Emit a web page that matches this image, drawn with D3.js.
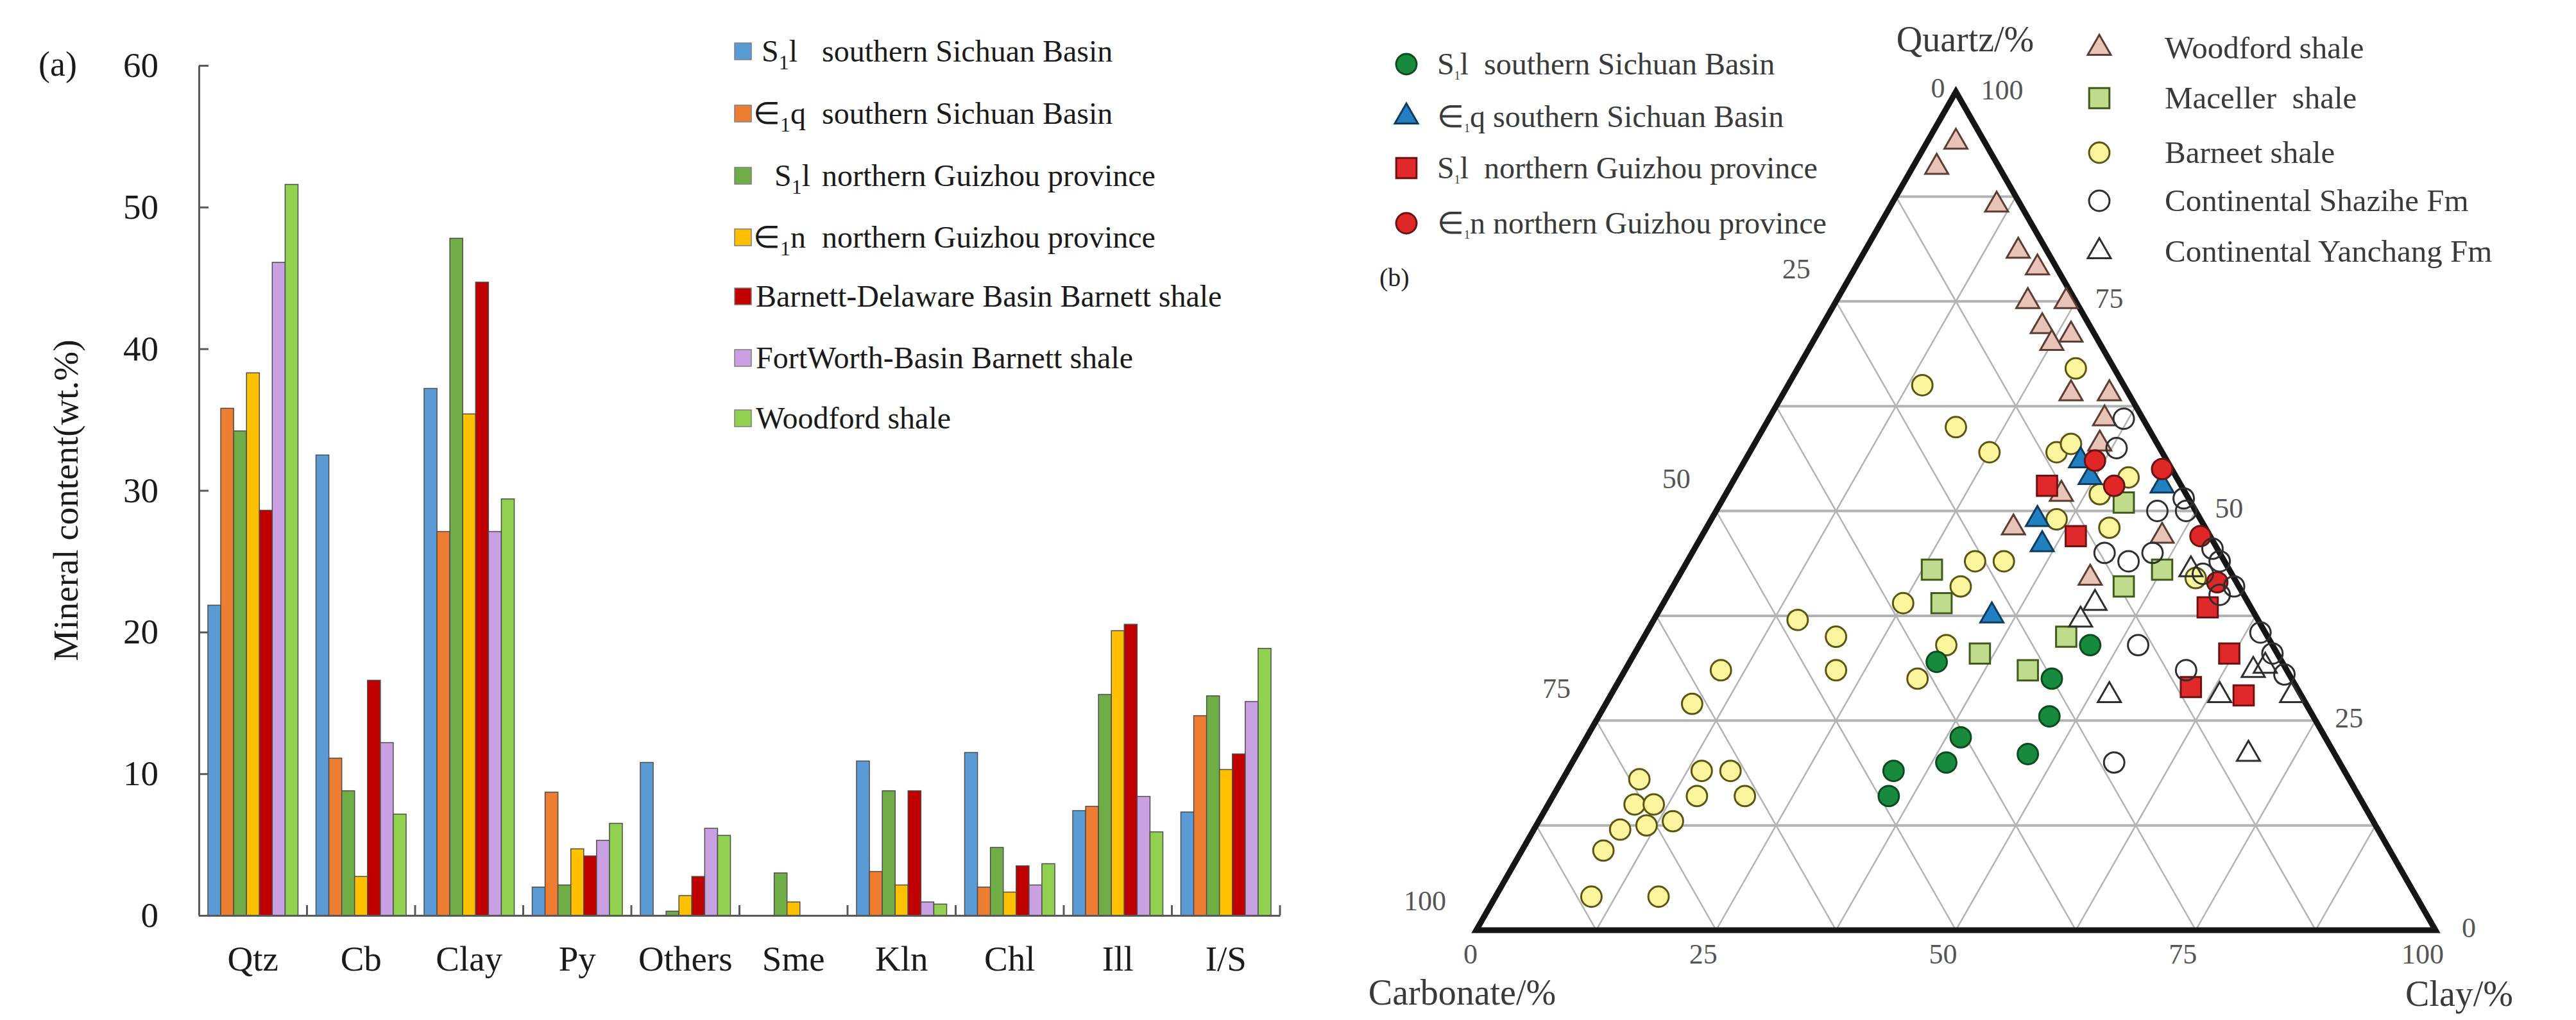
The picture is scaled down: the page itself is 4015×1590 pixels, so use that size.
<!DOCTYPE html>
<html>
<head>
<meta charset="utf-8">
<script src="https://d3js.org/d3.v7.min.js"></script>
<style>
  body { margin: 0; background: #fff; }
  text { font-family: 'Liberation Serif', 'Times New Roman', serif; white-space: pre; }
</style>
</head>
<body>
<div class="canvas"></div>
<script>
// ---------- (a) bar chart data ----------
const minerals = ['Qtz', 'Cb', 'Clay', 'Py', 'Others', 'Sme', 'Kln', 'Chl', 'Ill', 'I/S'];
const s1lSouth  = [21.9, 32.5, 37.2, 2.0, 10.8, 0, 10.9, 11.5, 7.4, 7.3];
const e1qSouth  = [35.8, 11.1, 27.1, 8.7, 0, 0, 3.1, 2.0, 7.7, 14.1];
const s1lNorth  = [34.2, 8.8, 47.8, 2.15, 0.3, 3.0, 8.8, 4.8, 15.6, 15.5];
const e1nNorth  = [38.3, 2.75, 35.4, 4.7, 1.4, 0.95, 2.15, 1.65, 20.1, 10.3];
const delaware  = [28.6, 16.6, 44.7, 4.2, 2.75, 0, 8.8, 3.5, 20.55, 11.4];
const fortWorth = [46.1, 12.2, 27.1, 5.3, 6.15, 0, 0.95, 2.15, 8.4, 15.1];
const woodford  = [51.6, 7.15, 29.4, 6.5, 5.65, 0, 0.8, 3.65, 5.9, 18.85];
const yTicks = [0, 10, 20, 30, 40, 50, 60];
const legendPrefix = ['S_1l', '∈_1q', 'S_1l', '∈_1n', '', '', ''];
const legendName = ['southern Sichuan Basin', 'southern Sichuan Basin', 'northern Guizhou province',
  'northern Guizhou province', 'Barnett-Delaware Basin Barnett shale', 'FortWorth-Basin Barnett shale', 'Woodford shale'];

// ---------- (b) ternary data: [quartz, carbonate, clay] ----------
const sichuanS1l = [[34,19,47],[32,36,32],[30,25,45],[25.5,27.5,47],[23,38,39],[20,41,39],[21,32,47],[19,47,34],[16,49,35]];
const sichuanE1q = [[56,9,35],[54,9,37],[53,2,45],[49,17,34],[46,18,36],[37.5,27.5,35]];
const guizhouS1l = [[53,14,33],[47,14,39],[38.5,4.5,57],[33,5,62],[29,11,60],[28,6,66]];
const guizhouE1n = [[56,7.5,36.5],[53,7,40],[55,1,44],[47,1,52],[41.5,2,56.5]];
const woodfordT = [[94,3,3],[91,6.5,2.5],[86.5,2.5,11],[81,3,16],[79,2,19],[75,5,20],[75,1,24],[72,5,23],
  [71,2.5,26.5],[70,5,25],[64,6,30],[64,2,34],[61,4,35],[58,6,36],[52,13,35],[48,20,32],[47,5,48],[42,15,43]];
const macellerT = [[51,7,42],[43,7,50],[41,12,47],[43,31,26],[39,32,29],[35,21,44],[33,31,36],[31,27,42]];
const barneetT = [[67,4,29],[65,21,14],[60,20,20],[57,18,25],[57,11,32],[58,9,33],[54,5,41],[52,9,39],
  [49,15,36],[48,10,42],[44,26,30],[44,23,33],[41,29,30],[39,36,25],[42,4,54],[37,48,15],[35,45,20],
  [34,34,32],[31,47,22],[30,39,31],[31,59,10],[27,64,9],[18,74,8],[19,67,14],[19,64,17],[16,69,15],
  [16,64,20],[15,76,9],[15,74,11],[12.5,76,11.5],[13,73,14],[12,79,9],[9.5,82,8.5],[4,86,10],[4,79,17]];
const shaziheT = [[61,2,37],[57.5,4.5,38],[51.5,0.5,48],[50,4,46],[50,1,49],[45,12,43],[44,10,46],[45,7,48],
  [45.5,0.5,54],[44,0.5,55.5],[40,2.5,57.5],[41,0.5,58.5],[35.5,0.5,64],[33,0.5,66.5],[34,14,52],
  [31,10.5,58.5],[30.5,0.5,69],[20,23.5,56.5],[42.5,3,54.5]];
const yanchangT = [[43,4,53],[39,16,45],[37,18.5,44.5],[28,20,52],[28,8.5,63.5],[28,1,71],[31,3.5,65.5],[31.5,2,66.5],[21,9,70]];
const ternTicks = [0, 25, 50, 75, 100];
const leftLegend = ['S_1l  southern Sichuan Basin', '∈_1q southern Sichuan Basin', 'S_1l  northern Guizhou province', '∈_1n northern Guizhou province'];
const rightLegend = ['Woodford shale', 'Maceller  shale', 'Barneet shale', 'Continental Shazihe Fm', 'Continental Yanchang Fm'];

const svg = d3.select('.canvas')
  .append('svg')
  .attr('width', 4015)
  .attr('height', 1590);

// text with a subscript "1" written as _1
const addRich = (t, str, subSize, shift) => {
  str.split('_1').forEach((p, i) => {
    if (i > 0) {
      t.append('tspan').attr('font-size', subSize).attr('dy', shift).text('1');
      t.append('tspan').attr('dy', -shift).text(p);
    } else {
      t.append('tspan').text(p);
    }
  });
};

// ================= (a) =================
const series = [s1lSouth, e1qSouth, s1lNorth, e1nNorth, delaware, fortWorth, woodford];
const barColours = ['#5B9BD5', '#ED7D31', '#70AD47', '#FFC000', '#C00000', '#C9A0E2', '#92D050'];

const x = d3.scaleBand().domain(minerals).range([310, 1995]);
const xs = d3.scaleBand().domain(d3.range(series.length)).range([14, x.bandwidth() - 14]);
const y = d3.scaleLinear().domain([0, 60]).range([1427, 102]);

const graph = svg.append('g');

series.forEach((vals, si) => {
  const rows = vals.map((v, i) => ({ m: minerals[i], v })).filter(d => d.v > 0);
  graph.selectAll(null)
    .data(rows)
    .enter()
    .append('rect')
    .attr('x', d => x(d.m) + xs(si))
    .attr('y', d => y(d.v))
    .attr('width', xs.bandwidth())
    .attr('height', d => y(0) - y(d.v))
    .attr('fill', barColours[si])
    .attr('stroke', '#4d4d4d')
    .attr('stroke-width', 1.5);
});

// axes
const yAxis = d3.axisLeft(y).tickValues(yTicks).tickSize(-15).tickSizeOuter(0).tickPadding(63);
const yAxisGroup = graph.append('g').attr('transform', 'translate(310,0)').call(yAxis);
const xAxis = d3.axisBottom(x).tickSize(0).tickPadding(47);
const xAxisGroup = graph.append('g').attr('transform', 'translate(0,1427)').call(xAxis);

[yAxisGroup, xAxisGroup].forEach(g => {
  g.select('.domain').attr('stroke', '#595959').attr('stroke-width', 3);
  g.selectAll('line').attr('stroke', '#595959').attr('stroke-width', 3);
  g.selectAll('text').attr('font-size', 55).attr('fill', '#1a1a1a')
    .attr('font-family', "'Liberation Serif', serif");
});

// category boundary ticks
graph.selectAll('.btick')
  .data(minerals.slice(1).map(m => x(m)).concat([x.range()[1]]))
  .enter()
  .append('line')
  .attr('x1', d => d).attr('x2', d => d)
  .attr('y1', 1427).attr('y2', 1411)
  .attr('stroke', '#595959').attr('stroke-width', 3);

graph.append('text')
  .attr('transform', 'translate(121,780) rotate(-90)')
  .attr('text-anchor', 'middle')
  .attr('font-size', 55)
  .attr('fill', '#1a1a1a')
  .text('Mineral content(wt.%)');

graph.append('text')
  .attr('x', 60).attr('y', 118)
  .attr('font-size', 54)
  .attr('fill', '#1a1a1a')
  .text('(a)');

// legend
const legendRows = [80, 177, 274, 370, 462, 558, 652];
const prefixX = [1187, 1174, 1207, 1174];
legendName.forEach((name, i) => {
  graph.append('rect')
    .attr('x', 1145).attr('y', legendRows[i] - 13)
    .attr('width', 26).attr('height', 26)
    .attr('fill', barColours[i])
    .attr('stroke', '#7f7f7f').attr('stroke-width', 1.5);
  if (legendPrefix[i]) {
    const t = graph.append('text')
      .attr('x', prefixX[i]).attr('y', legendRows[i] + 16)
      .attr('font-size', 48).attr('fill', '#1a1a1a');
    addRich(t, legendPrefix[i], 32, 12);
  }
  graph.append('text')
    .attr('x', i < 4 ? 1281 : 1178).attr('y', legendRows[i] + 16)
    .attr('font-size', 48).attr('fill', '#1a1a1a')
    .text(name);
});

// ================= (b) =================
const tern = svg.append('g');
const tx = d3.scaleLinear().domain([0, 100]).range([2301, 3796]);
const ty = d3.scaleLinear().domain([0, 100]).range([1450, 143]);
const pt = ([q, c, k]) => [tx(k + q / 2), ty(q)];

// grid every 12.5 %
const gridVals = d3.range(12.5, 100, 12.5);
const gridLines = [];
gridVals.forEach(v => {
  gridLines.push({ a: pt([v, 100 - v, 0]), b: pt([v, 0, 100 - v]), w: 4 });
  gridLines.push({ a: pt([0, 100 - v, v]), b: pt([100 - v, 0, v]), w: 2.5 });
  gridLines.push({ a: pt([0, v, 100 - v]), b: pt([100 - v, v, 0]), w: 2.5 });
});
tern.selectAll('.grid')
  .data(gridLines)
  .enter()
  .append('line')
  .attr('x1', d => d.a[0]).attr('y1', d => d.a[1])
  .attr('x2', d => d.b[0]).attr('y2', d => d.b[1])
  .attr('stroke', '#b3b3b3')
  .attr('stroke-width', d => d.w);

tern.append('path')
  .attr('d', d3.line()([pt([100, 0, 0]), pt([0, 100, 0]), pt([0, 0, 100])]) + 'Z')
  .attr('fill', 'none')
  .attr('stroke', '#151515')
  .attr('stroke-width', 9)
  .attr('stroke-linejoin', 'miter');

// tick labels
const tickText = (xx, yy, s) => tern.append('text')
  .attr('x', xx).attr('y', yy)
  .attr('text-anchor', 'middle').attr('dominant-baseline', 'central')
  .attr('font-size', 44).attr('fill', '#555')
  .text(s);
ternTicks.forEach(v => {
  // quartz on right edge
  const r = pt([v, 0, 100 - v]);
  if (v === 100) tickText(r[0] + 72, r[1] - 3, v); else tickText(r[0] + 52, r[1] - 4, v);
  // carbonate on left edge
  const l = pt([100 - v, v, 0]);
  if (v === 0) tickText(l[0] - 28, l[1] - 6, v);
  else if (v === 100) tickText(l[0] - 80, l[1] - 46, v);
  else tickText(l[0] - 62, l[1] - 50, v);
  // clay on base
  const b = pt([0, 100 - v, v]);
  tickText(b[0] - (v === 0 ? 9 : 20), b[1] + 37, v);
});

const titleText = (xx, yy, s) => tern.append('text')
  .attr('x', xx).attr('y', yy)
  .attr('text-anchor', 'middle')
  .attr('font-size', 56).attr('fill', '#3a3a3a')
  .text(s);
titleText(3063, 80, 'Quartz/%');
titleText(2279, 1566, 'Carbonate/%');
titleText(3833, 1568, 'Clay/%');

// markers
const styles = {
  woodford: { shape: d3.symbolTriangle, size: 560, fill: '#e9c3b8', stroke: '#5c3d33' },
  maceller: { shape: d3.symbolSquare, size: 1000, fill: '#bfdc8c', stroke: '#3f5a1c' },
  barneet:  { shape: d3.symbolCircle, size: 800, fill: '#fbf59e', stroke: '#5b5514' },
  shazihe:  { shape: d3.symbolCircle, size: 800, fill: 'none', stroke: '#2e2e2e' },
  yanchang: { shape: d3.symbolTriangle, size: 560, fill: 'none', stroke: '#2e2e2e' },
  sS1l: { shape: d3.symbolCircle, size: 800, fill: '#178a3e', stroke: '#0c4a20' },
  sE1q: { shape: d3.symbolTriangle, size: 560, fill: '#2180c2', stroke: '#0f3b5c' },
  gS1l: { shape: d3.symbolSquare, size: 1000, fill: '#e0292b', stroke: '#701212' },
  gE1n: { shape: d3.symbolCircle, size: 800, fill: '#e02727', stroke: '#661313' }
};

const drawPoints = (data, st) => {
  tern.selectAll(null)
    .data(data)
    .enter()
    .append('path')
    .attr('d', d3.symbol().type(st.shape).size(st.size))
    .attr('transform', d => `translate(${pt(d)[0]},${pt(d)[1]})`)
    .attr('fill', st.fill)
    .attr('stroke', st.stroke)
    .attr('stroke-width', 3);
};
drawPoints(woodfordT, styles.woodford);
drawPoints(macellerT, styles.maceller);
drawPoints(barneetT, styles.barneet);
drawPoints(sichuanS1l, styles.sS1l);
drawPoints(sichuanE1q, styles.sE1q);
drawPoints(guizhouS1l, styles.gS1l);
drawPoints(guizhouE1n, styles.gE1n);
drawPoints(shaziheT, styles.shazihe);
drawPoints(yanchangT, styles.yanchang);

// legends
const legendSymbol = (xx, yy, st) => tern.append('path')
  .attr('d', d3.symbol().type(st.shape).size(st.size))
  .attr('transform', `translate(${xx},${yy})`)
  .attr('fill', st.fill === 'none' ? '#fff' : st.fill)
  .attr('stroke', st.stroke)
  .attr('stroke-width', 3);

const leftStyles = [styles.sS1l, styles.sE1q, styles.gS1l, styles.gE1n];
const leftRows = [100, 182, 262, 348];
leftLegend.forEach((s, i) => {
  legendSymbol(2192, leftRows[i], leftStyles[i]);
  const t = tern.append('text')
    .attr('x', 2240).attr('y', leftRows[i] + 16)
    .attr('font-size', 48).attr('fill', '#3a3a3a');
  addRich(t, s, 18, 8);
});

const rightStyles = [styles.woodford, styles.maceller, styles.barneet, styles.shazihe, styles.yanchang];
const rightRows = [75, 153, 238, 313, 392];
rightLegend.forEach((s, i) => {
  legendSymbol(3272, rightRows[i], rightStyles[i]);
  tern.append('text')
    .attr('x', 3374).attr('y', rightRows[i] + 16)
    .attr('font-size', 49).attr('fill', '#3a3a3a')
    .text(s);
});

tern.append('text')
  .attr('x', 2150).attr('y', 446)
  .attr('font-family', "'DejaVu Sans', sans-serif")
  .attr('font-size', 40)
  .attr('fill', '#222')
  .text('(b)');
</script>
</body>
</html>
